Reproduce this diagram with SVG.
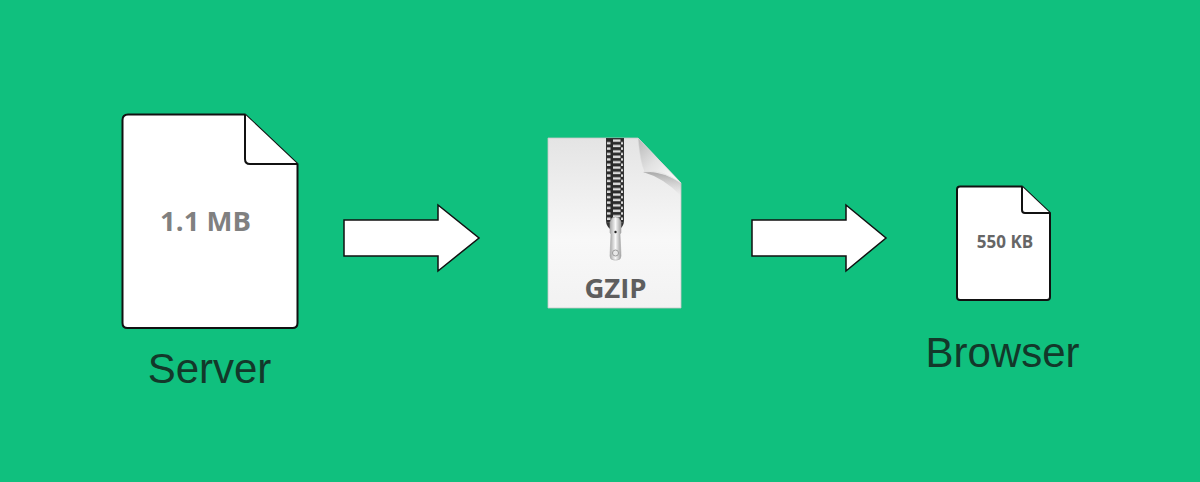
<svg xmlns="http://www.w3.org/2000/svg" width="1200" height="482" viewBox="0 0 1200 482">
<defs>
<linearGradient id="pg" x1="0" y1="0" x2="0" y2="1"><stop offset="0" stop-color="#e4e4e4"/><stop offset="0.6" stop-color="#f8f8f8"/><stop offset="1" stop-color="#f2f2f2"/></linearGradient>
<linearGradient id="fold" x1="0" y1="0" x2="1" y2="1"><stop offset="0" stop-color="#b8b8b8"/><stop offset="0.45" stop-color="#e2e2e2"/><stop offset="1" stop-color="#ffffff"/></linearGradient>
<linearGradient id="zipm" x1="0" y1="0" x2="1" y2="0"><stop offset="0" stop-color="#a8a8a8"/><stop offset="0.5" stop-color="#f8f8f8"/><stop offset="1" stop-color="#a0a0a0"/></linearGradient>
<linearGradient id="sh" x1="0" y1="0" x2="0" y2="1"><stop offset="0" stop-color="#a8a8a8"/><stop offset="1" stop-color="#c8c8c8" stop-opacity="0"/></linearGradient>
<pattern id="teeth" x="0" y="139" width="18" height="5.4" patternUnits="userSpaceOnUse"><rect width="18" height="5.4" fill="#2a2a2a"/><rect x="1" y="0.4" width="7.500" height="2.400" fill="#dcdcdc"/><rect x="9" y="3" width="7.500" height="2.400" fill="#dcdcdc"/></pattern>
</defs>
<style>
.doc{fill:#fff;stroke:#111;stroke-width:2;stroke-linejoin:round}
.arrow{fill:#fff;stroke:#111;stroke-width:1.5}
.lbl{font-family:"Liberation Sans",Arial,sans-serif;fill:#13382a}
.sz{font-family:"Open Sans","Noto Sans",sans-serif;font-weight:700;text-anchor:middle}
</style>
<rect width="1200" height="482" fill="#10c07e"/>
<g id="connectors">
<path class="arrow" d="M344 220H438V205L479 238L438 271V256H344Z"/>
<path class="arrow" d="M752 220H846V205L886 238L846 271V256H752Z"/>
</g>
<g id="server">
<path class="doc" d="M128 114.500H245L297.500 164V323Q297.500 328 292.500 328H127.500Q122.500 328 122.500 323V120Q122.500 114.500 128 114.500Z"/>
<path class="doc" fill="none" d="M245 114.500V159Q245 164 250 164H297.500"/>
<text class="sz" x="205.500" y="231" font-size="27.500" fill="#808080">1.1 MB</text>
<text class="lbl" x="209.500" y="383" font-size="42" text-anchor="middle">Server</text>
</g>
<g id="gzip">
<path d="M548 138H638L681 183V308H548Z" fill="url(#pg)" stroke="#c8c8c8" stroke-width="0.800"/>
<path d="M643 172Q660 170 681 183L681 196Q664 178 643 172Z" fill="url(#sh)"/>
<path d="M638 138Q640 162 645 172Q662 169 681 183Z" fill="url(#fold)" stroke="#ddd" stroke-width="0.500"/>
<path d="M606 138H624V220Q624 226 620 229H610Q606 226 606 220Z" fill="#333"/>
<rect x="607" y="139" width="16" height="84" fill="url(#teeth)"/>
<path d="M612 218Q615.500 216 619 218L621 222V233L620 234L621 256Q621 260 617 260H614Q610 260 610 256L611 234L610 233V222Z" fill="url(#zipm)" stroke="#aaa" stroke-width="0.600"/>
<circle cx="615.500" cy="253" r="3" fill="#e8e8e8" stroke="#999"/>
<circle cx="615.500" cy="232" r="1.200" fill="#222"/>
<text class="sz" x="615.500" y="298" font-size="27.500" fill="#5e5e5e">GZIP</text>
</g>
<g id="browser">
<path class="doc" d="M960 186.500H1022L1050 213V297Q1050 300 1047 300H960Q957 300 957 297V189.500Q957 186.500 960 186.500Z"/>
<path class="doc" fill="none" d="M1022 186.500V210Q1022 213 1025 213H1050"/>
<text class="sz" x="1005" y="248" font-size="17" fill="#666">550 KB</text>
<text class="lbl" x="1002.500" y="367" font-size="42" text-anchor="middle">Browser</text>
</g>
</svg>
